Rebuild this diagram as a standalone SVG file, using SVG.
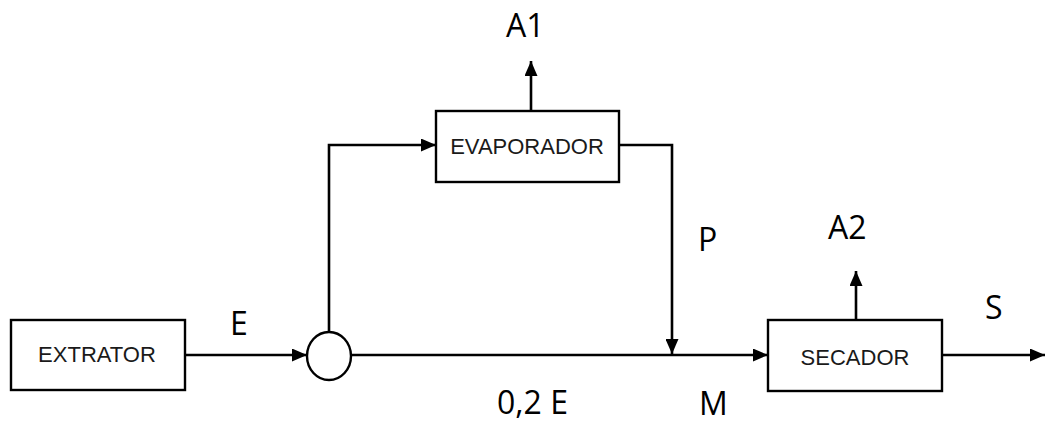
<svg xmlns="http://www.w3.org/2000/svg" width="1045" height="426" viewBox="0 0 1045 426">
<style>
.box{fill:#fff;stroke:#000;stroke-width:2.4}
.ln{fill:none;stroke:#000;stroke-width:2.6}
.bt{font-family:"Liberation Sans",Arial,sans-serif;font-size:22px;fill:#1a1a1a;text-anchor:middle}
.lb{font-family:"Open Sans","Liberation Sans",sans-serif;font-size:32px;fill:#000}
</style>
<defs>
<marker id="ar" viewBox="0 0 15 13" refX="15" refY="6.5" markerWidth="15" markerHeight="13" markerUnits="userSpaceOnUse" orient="auto">
<path d="M0,0 L15,6.5 L0,13 Z" fill="#000"/>
</marker>
</defs>
<g id="connectors">
<line class="ln" x1="185" y1="355" x2="307" y2="355" marker-end="url(#ar)"/>
<polyline class="ln" points="329,332 329,145 436,145" marker-end="url(#ar)"/>
<line class="ln" x1="531" y1="111" x2="531" y2="61" marker-end="url(#ar)"/>
<polyline class="ln" points="619,145 672,145 672,354" marker-end="url(#ar)"/>
<line class="ln" x1="351" y1="355" x2="768" y2="355" marker-end="url(#ar)"/>
<line class="ln" x1="856" y1="320" x2="856" y2="271" marker-end="url(#ar)"/>
<line class="ln" x1="942" y1="355" x2="1045" y2="355" marker-end="url(#ar)"/>
</g>
<g id="extrator">
<rect class="box" x="11" y="320" width="174" height="70"/>
<text class="bt" x="97" y="362">EXTRATOR</text>
</g>
<g id="mixer">
<ellipse class="box" cx="329" cy="356" rx="22" ry="24"/>
</g>
<g id="evaporador">
<rect class="box" x="436" y="111" width="183" height="71"/>
<text class="bt" x="527" y="154">EVAPORADOR</text>
</g>
<g id="secador">
<rect class="box" x="768" y="320" width="174" height="71"/>
<text class="bt" x="855" y="365">SECADOR</text>
</g>
<g id="labels">
<text class="lb" x="506" y="37">A1</text>
<text class="lb" x="230" y="335">E</text>
<text class="lb" x="698" y="251">P</text>
<text class="lb" x="828" y="239">A2</text>
<text class="lb" x="985" y="319">S</text>
<text class="lb" x="497" y="414">0,2 E</text>
<text class="lb" x="699" y="415">M</text>
</g>
</svg>
